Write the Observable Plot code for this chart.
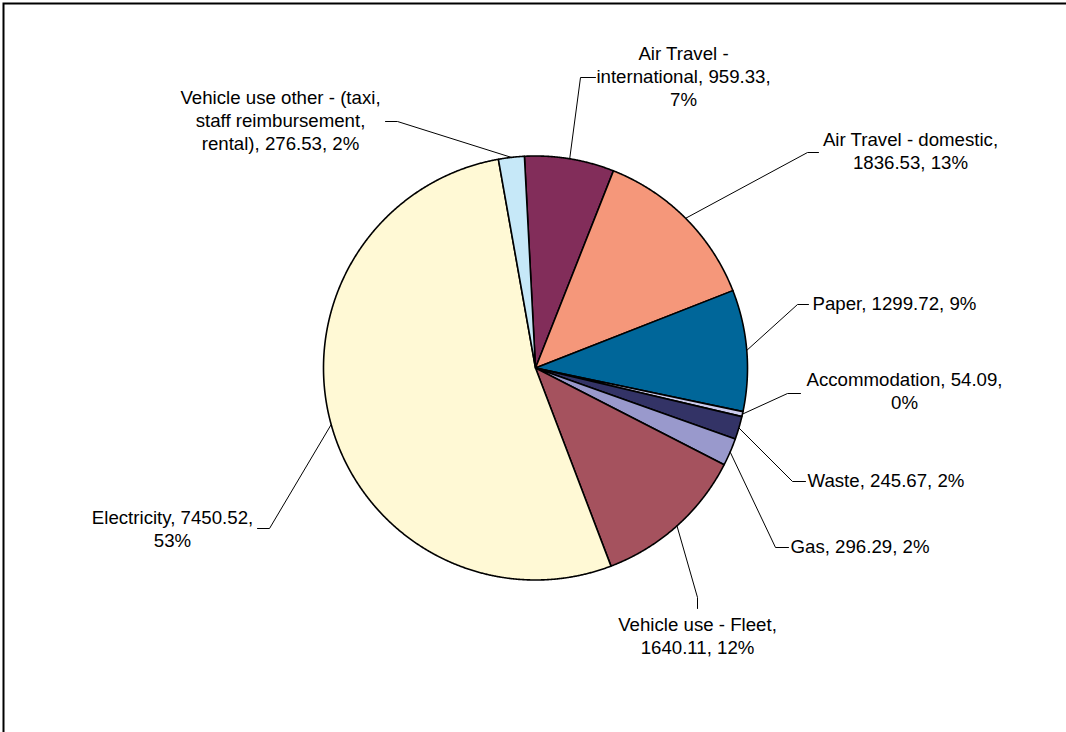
<!DOCTYPE html>
<html><head><meta charset="utf-8">
<script src="https://cdn.jsdelivr.net/npm/d3@7"></script>
<script src="https://cdn.jsdelivr.net/npm/@observablehq/plot@0.6"></script>
<style>
html,body{margin:0;padding:0;background:#fff;overflow:hidden;}
</style></head><body><div id="chart"></div>
<script>
// ---- data (clockwise from the top) ----
const categories = [
  "Air Travel - international",
  "Air Travel - domestic",
  "Paper",
  "Accommodation",
  "Waste",
  "Gas",
  "Vehicle use - Fleet",
  "Electricity",
  "Vehicle use other - (taxi, staff reimbursement, rental)"
];
const values = [959.33, 1836.53, 1299.72, 54.09, 245.67, 296.29, 1640.11, 7450.52, 276.53];
const colors = ["#822D5A", "#F5977A", "#006699", "#CCCCEE", "#333366", "#9999CC", "#A5525E", "#FFF9D5", "#C6E8F8"];

// ---- layout ----
const W = 1066, H = 732, CX = 535, CY = 367.5, R = 212, START = -3 * Math.PI / 180;
const FONT = 18.67, LINE = 23.4;
const labelLayout = {
  "Air Travel - international": {x: 683, y: 76.5, anchor: "middle", wrap: 22, elbow: [580, 77], end: [595, 77]},
  "Air Travel - domestic": {x: 910, y: 151, anchor: "middle", wrap: 22, elbow: [807, 152], end: [818, 152]},
  "Paper": {x: 812, y: 303.5, anchor: "start", wrap: 99, elbow: [797, 304], end: [808, 304]},
  "Accommodation": {x: 904, y: 391, anchor: "middle", wrap: 21, elbow: [787, 393], end: [800, 393]},
  "Waste": {x: 807, y: 480.5, anchor: "start", wrap: 99, elbow: [792, 481], end: [805, 481]},
  "Gas": {x: 790, y: 546.5, anchor: "start", wrap: 99, elbow: [775, 547], end: [788, 547]},
  "Vehicle use - Fleet": {x: 697, y: 636, anchor: "middle", wrap: 20, elbow: [697, 597], end: [697, 608]},
  "Electricity": {x: 172, y: 529, anchor: "middle", wrap: 21, elbow: [269, 528], end: [257, 528]},
  "Vehicle use other - (taxi, staff reimbursement, rental)": {x: 280, y: 120.5, anchor: "middle", wrap: 26, elbow: [397, 121], end: [385, 121]}
};

function wrapText(s, max) {
  const words = s.split(" ");
  const lines = [];
  let cur = "";
  for (const w of words) {
    if (cur === "") cur = w;
    else if ((cur + " " + w).length <= max) cur += " " + w;
    else { lines.push(cur); cur = w; }
  }
  if (cur) lines.push(cur);
  return lines;
}

const total = d3.sum(values);
const arcs = d3.pie().sort(null).startAngle(START).endAngle(START + 2 * Math.PI)(values);
const pt = (a, r) => [CX + r * Math.sin(a), CY - r * Math.cos(a)];

const slicePts = [];
const leaderPts = [];
const labelLines = [];
arcs.forEach((a, i) => {
  const name = categories[i];
  slicePts.push({name, x: CX, y: CY});
  const n = Math.max(2, Math.ceil((a.endAngle - a.startAngle) / 0.004));
  for (let k = 0; k <= n; k++) {
    const t = a.startAngle + (a.endAngle - a.startAngle) * k / n;
    const [x, y] = pt(t, R);
    slicePts.push({name, x, y});
  }
  slicePts.push({name, x: CX, y: CY});
  const L = labelLayout[name];
  const mid = (a.startAngle + a.endAngle) / 2;
  const [mx, my] = pt(mid, R);
  leaderPts.push({name, x: mx, y: my}, {name, x: L.elbow[0], y: L.elbow[1]}, {name, x: L.end[0], y: L.end[1]});
  const pct = Math.round(values[i] / total * 100);
  const lines = wrapText(`${name}, ${values[i].toFixed(2)}, ${pct}%`, L.wrap);
  lines.forEach((t, j) => {
    labelLines.push({
      name, anchor: L.anchor, text: t,
      x: L.x,
      y: L.y + (j - (lines.length - 1) / 2) * LINE
    });
  });
});

const textOpts = {x: "x", y: "y", text: "text", lineAnchor: "middle", fontSize: FONT, fill: "#000", fontFamily: "'Liberation Sans', Arial, sans-serif"};

const chart = Plot.plot({
  width: W, height: H,
  margin: 0,
  style: {fontFamily: "'Liberation Sans', Arial, sans-serif", background: "#fff"},
  x: {domain: [0, W], axis: null},
  y: {domain: [0, H], range: [0, H], axis: null},
  color: {type: "ordinal", domain: categories, range: colors},
  marks: [
    Plot.frame({stroke: "black", strokeWidth: 2, insetLeft: 3, insetTop: 3, insetRight: -20, insetBottom: -20}),
    Plot.line(slicePts, {x: "x", y: "y", z: "name", fill: "name", stroke: "black", strokeWidth: 1.6, strokeLinejoin: "round", curve: "linear"}),
    Plot.line(leaderPts, {x: "x", y: "y", z: "name", stroke: "black", strokeWidth: 1, curve: "linear"}),
    Plot.text(labelLines.filter(d => d.anchor === "middle"), {...textOpts, textAnchor: "middle"}),
    Plot.text(labelLines.filter(d => d.anchor === "start"), {...textOpts, textAnchor: "start"})
  ]
});
document.getElementById("chart").appendChild(chart);
</script>
</body></html>
